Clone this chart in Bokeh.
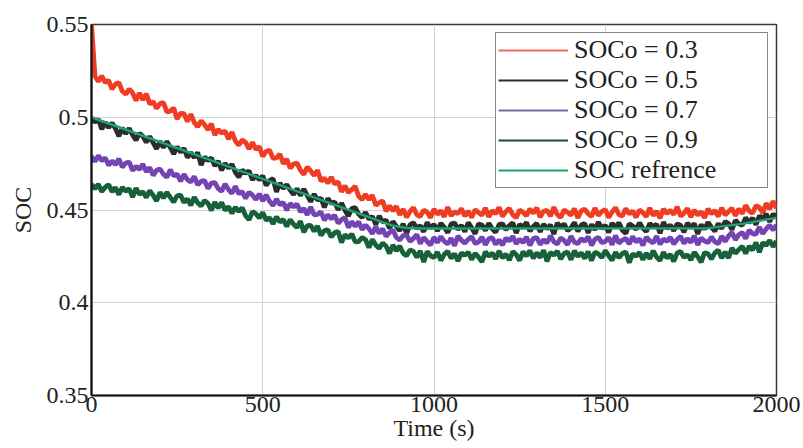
from bokeh.plotting import figure
from bokeh.models import (FixedTicker, CustomJSTickFormatter, Legend, LegendItem,
                          ColumnDataSource, CDSView, IndexFilter)
from bokeh.embed import file_html
from bokeh.resources import INLINE

# ---------------- data (SOC values in units of 1e-4, one row = 100 s) ----------------
time_s = list(range(0, 2001, 10))

soc_03_e4 = [
    5500, 5223, 5192, 5223, 5187, 5199, 5152, 5178, 5187, 5140,
    5124, 5152, 5131, 5091, 5130, 5094, 5126, 5072, 5084, 5048,
    5074, 5079, 5029, 5033, 5050, 4991, 5021, 5019, 4977, 5016,
    4972, 4949, 4981, 4960, 4933, 4965, 4904, 4934, 4914, 4926,
    4882, 4920, 4872, 4849, 4878, 4864, 4829, 4865, 4827, 4842,
    4788, 4817, 4822, 4778, 4781, 4802, 4749, 4774, 4725, 4748,
    4753, 4715, 4692, 4732, 4711, 4686, 4714, 4656, 4672, 4645,
    4677, 4641, 4652, 4598, 4631, 4594, 4611, 4628, 4574, 4556,
    4584, 4556, 4580, 4526, 4539, 4550, 4494, 4523, 4495, 4520,
    4474, 4504, 4461, 4492, 4513, 4474, 4465, 4500, 4488, 4459,
    4505, 4477, 4496, 4464, 4516, 4469, 4490, 4481, 4508, 4467,
    4494, 4460, 4502, 4486, 4472, 4511, 4463, 4497, 4479, 4514,
    4466, 4491, 4509, 4475, 4458, 4500, 4488, 4469, 4506, 4482,
    4512, 4462, 4493, 4498, 4467, 4515, 4476, 4460, 4501, 4487,
    4473, 4507, 4457, 4496, 4504, 4480, 4465, 4510, 4471, 4492,
    4503, 4459, 4489, 4513, 4474, 4468, 4508, 4478, 4495, 4461,
    4500, 4486, 4464, 4511, 4470, 4494, 4456, 4505, 4481, 4498,
    4476, 4517, 4467, 4483, 4509, 4462, 4499, 4473, 4491, 4458,
    4506, 4479, 4497, 4465, 4512, 4473, 4492, 4510, 4469, 4506,
    4481, 4525, 4495, 4483, 4523, 4514, 4485, 4536, 4505, 4547,
    4510]

soc_05_e4 = [
    4995, 4974, 4989, 4936, 4972, 4944, 4969, 4939, 4898, 4942,
    4911, 4940, 4905, 4877, 4914, 4897, 4865, 4897, 4862, 4830,
    4870, 4837, 4870, 4837, 4802, 4841, 4812, 4833, 4783, 4809,
    4783, 4810, 4742, 4786, 4767, 4780, 4738, 4763, 4714, 4752,
    4725, 4747, 4703, 4677, 4716, 4698, 4711, 4663, 4687, 4662,
    4684, 4633, 4659, 4669, 4598, 4645, 4616, 4637, 4608, 4583,
    4615, 4578, 4613, 4578, 4545, 4586, 4553, 4564, 4514, 4563,
    4536, 4543, 4501, 4537, 4499, 4467, 4508, 4513, 4478, 4460,
    4488, 4451, 4466, 4421, 4469, 4434, 4446, 4401, 4438, 4412,
    4388, 4425, 4374, 4420, 4431, 4401, 4415, 4383, 4433, 4403,
    4422, 4387, 4428, 4407, 4378, 4424, 4430, 4395, 4417, 4384,
    4432, 4404, 4372, 4425, 4419, 4390, 4429, 4399, 4380, 4421,
    4426, 4393, 4416, 4431, 4376, 4423, 4406, 4434, 4386, 4411,
    4428, 4382, 4424, 4398, 4420, 4370, 4430, 4408, 4425, 4389,
    4404, 4433, 4385, 4419, 4427, 4377, 4422, 4394, 4435, 4401,
    4417, 4379, 4429, 4405, 4432, 4391, 4373, 4426, 4414, 4396,
    4431, 4402, 4384, 4428, 4410, 4423, 4375, 4434, 4399, 4420,
    4388, 4425, 4418, 4381, 4430, 4404, 4427, 4371, 4421, 4397,
    4433, 4407, 4386, 4427, 4400, 4438, 4427, 4394, 4445, 4425,
    4417, 4459, 4431, 4457, 4421, 4468, 4453, 4479, 4437, 4478,
    4462]

soc_07_e4 = [
    4790, 4761, 4793, 4766, 4781, 4741, 4765, 4744, 4776, 4731,
    4753, 4759, 4713, 4735, 4719, 4747, 4706, 4729, 4687, 4714,
    4721, 4693, 4676, 4717, 4684, 4694, 4655, 4693, 4663, 4651,
    4681, 4636, 4654, 4659, 4616, 4645, 4648, 4615, 4601, 4640,
    4610, 4590, 4628, 4588, 4599, 4563, 4596, 4580, 4556, 4587,
    4549, 4581, 4547, 4524, 4559, 4529, 4541, 4499, 4535, 4516,
    4532, 4491, 4508, 4474, 4516, 4474, 4476, 4490, 4445, 4475,
    4452, 4472, 4429, 4447, 4460, 4406, 4437, 4412, 4437, 4395,
    4419, 4399, 4372, 4411, 4374, 4399, 4358, 4378, 4392, 4352,
    4338, 4363, 4365, 4331, 4347, 4368, 4319, 4351, 4330, 4311,
    4353, 4325, 4357, 4331, 4317, 4347, 4308, 4359, 4337, 4322,
    4342, 4356, 4320, 4327, 4354, 4312, 4345, 4351, 4315, 4339,
    4311, 4349, 4333, 4358, 4318, 4343, 4324, 4355, 4309, 4346,
    4352, 4314, 4340, 4322, 4361, 4329, 4316, 4350, 4336, 4313,
    4359, 4326, 4319, 4345, 4332, 4356, 4310, 4342, 4353, 4323,
    4330, 4351, 4313, 4362, 4321, 4338, 4347, 4317, 4357, 4327,
    4345, 4309, 4354, 4334, 4322, 4359, 4315, 4344, 4331, 4352,
    4317, 4341, 4358, 4320, 4346, 4325, 4360, 4312, 4349, 4333,
    4324, 4355, 4328, 4318, 4359, 4331, 4359, 4380, 4339, 4367,
    4379, 4346, 4392, 4372, 4370, 4408, 4373, 4398, 4418, 4392,
    4420]

soc_09_e4 = [
    4639, 4615, 4639, 4599, 4623, 4637, 4599, 4621, 4583, 4623,
    4601, 4615, 4570, 4618, 4585, 4598, 4568, 4605, 4579, 4549,
    4595, 4565, 4595, 4568, 4543, 4576, 4580, 4541, 4560, 4525,
    4569, 4539, 4521, 4551, 4536, 4498, 4542, 4511, 4541, 4498,
    4518, 4482, 4515, 4492, 4512, 4469, 4447, 4491, 4480, 4457,
    4487, 4444, 4459, 4425, 4464, 4435, 4449, 4411, 4448, 4423,
    4405, 4440, 4380, 4416, 4417, 4386, 4414, 4363, 4389, 4393,
    4355, 4378, 4384, 4324, 4367, 4349, 4371, 4328, 4330, 4351,
    4341, 4297, 4341, 4311, 4293, 4322, 4306, 4266, 4311, 4280,
    4306, 4267, 4253, 4285, 4277, 4245, 4279, 4220, 4277, 4253,
    4244, 4273, 4228, 4261, 4277, 4240, 4264, 4225, 4268, 4256,
    4272, 4233, 4266, 4246, 4220, 4275, 4250, 4269, 4237, 4279,
    4242, 4262, 4230, 4276, 4260, 4228, 4275, 4252, 4281, 4240,
    4270, 4244, 4283, 4223, 4272, 4257, 4278, 4236, 4266, 4274,
    4232, 4280, 4250, 4269, 4239, 4276, 4227, 4273, 4263, 4243,
    4282, 4253, 4229, 4272, 4243, 4266, 4274, 4216, 4263, 4251,
    4271, 4232, 4267, 4237, 4280, 4246, 4228, 4272, 4241, 4261,
    4223, 4268, 4276, 4244, 4259, 4230, 4273, 4248, 4219, 4270,
    4264, 4236, 4269, 4283, 4241, 4274, 4241, 4295, 4267, 4286,
    4305, 4265, 4305, 4284, 4325, 4273, 4324, 4310, 4336, 4302,
    4333]

ref_time = [0, 880, 920, 960, 1800, 1900, 2000]
ref_soc = [0.5000, 0.4415, 0.4403, 0.4400, 0.4402, 0.4425, 0.4458]

series_labels = ["SOCo = 0.3", "SOCo = 0.5", "SOCo = 0.7", "SOCo = 0.9"]
series_colors = ["#f03c22", "#2d2d2d", "#7444b4", "#17603a"]
legend_colors = ["#f06a5a", "#2d2d2d", "#7e6aa6", "#1f4f36"]
ref_label = "SOC refrence"
ref_color = "#1aa56e"

x_ticks = [0, 500, 1000, 1500, 2000]
y_ticks = [0.35, 0.40, 0.45, 0.50, 0.55]

FONT = "Liberation Serif"

# ---------------- figure ----------------
p = figure(width=803, height=448, output_backend="svg", toolbar_location=None,
           x_range=(0, 2000), y_range=(0.35, 0.55),
           min_border_left=91, min_border_right=27,
           min_border_top=24, min_border_bottom=53)

p.background_fill_color = "white"
p.border_fill_color = "white"
p.outline_line_color = "#3a3a3a"
p.outline_line_width = 1.5

items = []
for vals, lab, col, lcol in zip([soc_03_e4, soc_05_e4, soc_07_e4, soc_09_e4],
                                series_labels, series_colors, legend_colors):
    src = ColumnDataSource(dict(t=time_s, soc=[v / 10000 for v in vals]))
    p.line("t", "soc", source=src, line_color=col, line_width=4.8)
    # thin legend-only proxy (a single point draws no visible segment)
    proxy = p.line("t", "soc", source=src, view=CDSView(filter=IndexFilter(indices=[0])),
                   line_color=lcol, line_width=2)
    items.append(LegendItem(label=lab, renderers=[proxy]))

ref_src = ColumnDataSource(dict(t=ref_time, soc=ref_soc))
p.line("t", "soc", source=ref_src, line_color=ref_color, line_width=2.4)
ref_proxy = p.line("t", "soc", source=ref_src,
                   view=CDSView(filter=IndexFilter(indices=[0])),
                   line_color=ref_color, line_width=2)
items.append(LegendItem(label=ref_label, renderers=[ref_proxy]))

# axes
p.xaxis.ticker = FixedTicker(ticks=x_ticks)
p.yaxis.ticker = FixedTicker(ticks=y_ticks)
p.yaxis.formatter = CustomJSTickFormatter(
    code="return tick.toFixed(2).replace(/0$/, '');")
for ax in (p.xaxis[0], p.yaxis[0]):
    ax.major_label_text_font = FONT
    ax.major_label_text_font_size = "24px"
    ax.major_label_text_color = "#222222"
    ax.axis_line_color = "#111111"
    ax.axis_line_width = 2.2
    ax.major_tick_in = 0
    ax.major_tick_out = 0
    ax.minor_tick_in = 0
    ax.minor_tick_out = 0
    ax.axis_label_text_font = FONT
    ax.axis_label_text_font_size = "24px"
    ax.axis_label_text_font_style = "normal"
    ax.axis_label_text_color = "#222222"
p.xaxis.major_label_standoff = 1
p.yaxis.major_label_standoff = 3

p.yaxis.axis_label = "SOC"
p.yaxis.axis_label_standoff = 8
p.xaxis.axis_label = "Time (s)"
p.xaxis.axis_label_standoff = 0

p.xgrid.grid_line_color = "#d2d2d2"
p.ygrid.grid_line_color = "#d2d2d2"
p.xgrid.grid_line_width = 1
p.ygrid.grid_line_width = 1

legend = Legend(items=items, location="top_right")
legend.margin = 8
legend.padding = 2
legend.spacing = 0
legend.label_height = 30
legend.glyph_height = 30
legend.glyph_width = 70
legend.label_standoff = 6
legend.label_width = 191
legend.label_text_font = FONT
legend.label_text_font_size = "26px"
legend.label_text_color = "#222222"
legend.border_line_color = "#111111"
legend.border_line_width = 1.5
legend.background_fill_color = "white"
legend.background_fill_alpha = 1.0
p.add_layout(legend)

open("out.html", "w").write(file_html(p, INLINE))
